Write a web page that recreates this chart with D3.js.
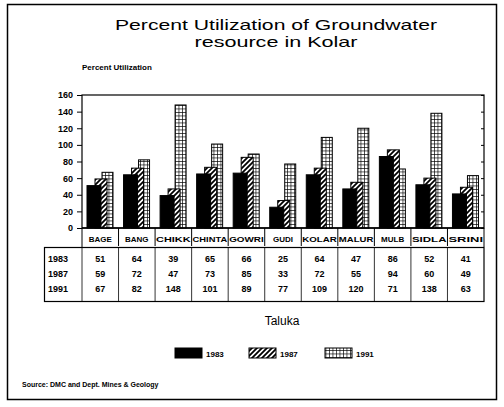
<!DOCTYPE html>
<html><head><meta charset="utf-8">
<script src="https://cdn.jsdelivr.net/npm/d3@7"></script>
<style>body{margin:0;background:#fff}svg{display:block}text{font-family:"Liberation Sans",Arial,sans-serif}</style>
</head><body><svg id="c" width="504" height="407"></svg>
<script>
const categories = ["BAGE","BANG","CHIKK","CHINTA","GOWRI","GUDI","KOLAR","MALUR","MULB","SIDLA","SRINI"];
const years = ["1983","1987","1991"];
const v1983 = [51,64,39,65,66,25,64,47,86,52,41];
const v1987 = [59,72,47,73,85,33,72,55,94,60,49];
const v1991 = [67,82,148,101,89,77,109,120,71,138,63];
const yTicks = [0,20,40,60,80,100,120,140,160];
const series = [v1983, v1987, v1991];

const svg = d3.select("#c");
const defs = svg.append("defs");
const ph = defs.append("pattern").attr("id","hatch").attr("patternUnits","userSpaceOnUse").attr("width",5).attr("height",5);
ph.append("rect").attr("width",5).attr("height",5).attr("fill","#fff");
ph.append("path").attr("d","M-1,6 L6,-1 M-1,1 L1,-1 M4,6 L6,4").attr("stroke","#000").attr("stroke-width",1.8);
const pg = defs.append("pattern").attr("id","grid").attr("patternUnits","userSpaceOnUse").attr("width",3.5).attr("height",3.5);
pg.append("rect").attr("width",3.5).attr("height",3.5).attr("fill","#fff");
pg.append("path").attr("d","M0,0 H3.5 M0,0 V3.5").attr("stroke","#000").attr("stroke-width",1.3);
const fills = ["#000","url(#hatch)","url(#grid)"];

// outer frame
svg.append("rect").attr("x",7.5).attr("y",4.5).attr("width",489).attr("height",395).attr("fill","none").attr("stroke","#000").attr("stroke-width",1.5);

svg.append("text").attr("x",276).attr("y",30).attr("text-anchor","middle").attr("font-size",15)
  .attr("textLength",322).attr("lengthAdjust","spacingAndGlyphs").text("Percent Utilization of Groundwater");
svg.append("text").attr("x",276).attr("y",47).attr("text-anchor","middle").attr("font-size",15)
  .attr("textLength",163).attr("lengthAdjust","spacingAndGlyphs").text("resource in Kolar");

const L=82, R=484, T=95, B=228;
const x = d3.scaleBand().domain(categories).range([L,R]).padding(0);
const y = d3.scaleLinear().domain([0,160]).range([B,T]);
const w = x.bandwidth();
const off = d3.scaleOrdinal().domain(years).range([5,13,20]);
const bw = d3.scaleOrdinal().domain(years).range([14,12,11]);

svg.append("text").attr("x",82).attr("y",70).attr("font-size",8).attr("font-weight","bold").text("Percent Utilization");

// plot frame
svg.append("rect").attr("x",L).attr("y",T).attr("width",R-L).attr("height",B-T).attr("fill","none").attr("stroke","#000").attr("stroke-width",1.2);

const ya = svg.append("g").attr("transform",`translate(${L},0)`).call(d3.axisLeft(y).tickValues(yTicks).tickSize(5).tickPadding(4));
ya.select(".domain").remove();
ya.selectAll("text").attr("font-size",9).attr("font-weight","bold").attr("font-family","Liberation Sans,Arial");
const yr = svg.append("g").attr("transform",`translate(${R},0)`).call(d3.axisLeft(y).tickValues(yTicks).tickSize(3).tickFormat(""));
yr.select(".domain").remove();

// bars: back to front
for (let s=2; s>=0; s--) {
  const yrName = years[s];
  svg.append("g").selectAll("rect").data(categories).join("rect")
    .attr("x", d => x(d)+off(yrName))
    .attr("width", bw(yrName))
    .attr("y", (d,i) => y(series[s][i]))
    .attr("height", (d,i) => B - y(series[s][i]))
    .attr("fill", fills[s]).attr("stroke","#000").attr("stroke-width",1);
}
svg.append("line").attr("x1",L).attr("x2",R).attr("y1",B).attr("y2",B).attr("stroke","#000").attr("stroke-width",1.5);

// category row
const catRow = svg.append("g");
catRow.selectAll("line").data(categories.slice(1)).join("line")
  .attr("x1",d=>x(d)).attr("x2",d=>x(d)).attr("y1",B).attr("y2",246).attr("stroke","#000");
catRow.selectAll("text").data(categories).join("text")
  .attr("x",d=>x(d)+w/2).attr("y",242).attr("text-anchor","middle")
  .attr("font-size",8).attr("font-weight","bold")
  .attr("textLength",d=>d.length>4?w-2:null).attr("lengthAdjust","spacingAndGlyphs").text(d=>d);
svg.append("line").attr("x1",L).attr("x2",L).attr("y1",B).attr("y2",247).attr("stroke","#000");
svg.append("line").attr("x1",R).attr("x2",R).attr("y1",B).attr("y2",247).attr("stroke","#000");

// data table
svg.append("rect").attr("x",44.5).attr("y",247.5).attr("width",R-44.5).attr("height",54).attr("fill","none").attr("stroke","#000").attr("stroke-width",1.2);
svg.append("g").selectAll("line").data(categories).join("line")
  .attr("x1",d=>x(d)).attr("x2",d=>x(d)).attr("y1",247).attr("y2",301).attr("stroke","#000").attr("stroke-width",0.8);
const rowY = d3.scaleOrdinal().domain(years).range([262,277,292]);
years.forEach((yrName,s)=>{
  svg.append("text").attr("x",48).attr("y",rowY(yrName)).attr("font-size",9).attr("font-weight","bold").text(yrName);
  svg.append("g").selectAll("text").data(categories).join("text")
    .attr("x",d=>x(d)+w/2).attr("y",rowY(yrName)).attr("text-anchor","middle")
    .attr("font-size",9).attr("font-weight","bold").text((d,i)=>series[s][i]);
});

svg.append("text").attr("x",282).attr("y",325).attr("text-anchor","middle").attr("font-size",12).text("Taluka");

// legend
const legX = d3.scaleOrdinal().domain(years).range([175,249,325]);
years.forEach((yrName,s)=>{
  svg.append("rect").attr("x",legX(yrName)).attr("y",348).attr("width",27).attr("height",10).attr("fill",fills[s]).attr("stroke","#000");
  svg.append("text").attr("x",legX(yrName)+31).attr("y",357).attr("font-size",8).attr("font-weight","bold").text(yrName);
});

svg.append("text").attr("x",22).attr("y",387).attr("font-size",7).attr("font-weight","bold").text("Source: DMC and Dept. Mines & Geology");
</script></body></html>
